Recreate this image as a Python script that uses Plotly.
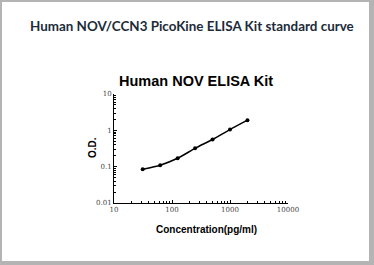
import plotly.graph_objects as go

concentration = [31.25, 62.5, 125, 250, 500, 1000, 2000]
od = [0.085, 0.11, 0.17, 0.32, 0.56, 1.05, 1.9]

x_ticks = [10, 100, 1000, 10000]
x_tick_labels = ["10", "100", "1000", "10000"]
y_ticks = [0.01, 0.1, 1, 10]
y_tick_labels = ["0.01", "0.1", "1", "10"]

W, H = 374, 265
L, R, T, B = 114, 86, 94, 62
pw, ph = W - L - R, H - T - B


def px(x):
    return (x - L) / pw


def py(y):
    return (H - B - y) / ph


fig = go.Figure()
fig.add_trace(go.Scatter(
    x=concentration, y=od, mode="lines+markers",
    line=dict(color="black", width=1.5, shape="spline", smoothing=0.6),
    marker=dict(color="black", size=4),
    showlegend=False, hoverinfo="skip",
))

minor_x = [m * 10 ** k for k in range(1, 4) for m in range(2, 10)]
minor_y = [m * 10 ** k for k in range(-2, 1) for m in range(2, 10)]

axis_common = dict(
    type="log", showgrid=False, zeroline=False, showline=True,
    linecolor="black", linewidth=1, ticks="inside", ticklen=3,
    tickcolor="black", tickwidth=1, mirror=False,
    tickfont=dict(family="DejaVu Serif", size=7, color="#444"),
)

fig.update_xaxes(
    **axis_common, range=[1, 4], tickmode="array", tickvals=x_ticks,
    ticktext=x_tick_labels,
    minor=dict(ticks="inside", ticklen=2, tickcolor="black", tickvals=minor_x),
)
fig.update_yaxes(
    **axis_common, range=[-2, 1], tickmode="array", tickvals=y_ticks,
    ticktext=y_tick_labels,
    minor=dict(ticks="inside", ticklen=2, tickcolor="black", tickvals=minor_y),
)

shapes = []
border_color = "#b4b4b4"
# frame around the image
shapes.append(dict(type="rect", xref="paper", yref="paper",
                   x0=px(0), x1=px(2), y0=py(H), y1=py(0),
                   fillcolor=border_color, line=dict(width=0), layer="below"))
shapes.append(dict(type="rect", xref="paper", yref="paper",
                   x0=px(369), x1=px(W), y0=py(H), y1=py(0),
                   fillcolor=border_color, line=dict(width=0), layer="below"))
shapes.append(dict(type="rect", xref="paper", yref="paper",
                   x0=px(0), x1=px(W), y0=py(2), y1=py(0),
                   fillcolor=border_color, line=dict(width=0), layer="below"))
shapes.append(dict(type="rect", xref="paper", yref="paper",
                   x0=px(0), x1=px(W), y0=py(H), y1=py(261),
                   fillcolor=border_color, line=dict(width=0), layer="below"))

annotations = [
    dict(text="<b>Human NOV/CCN3 PicoKine ELISA Kit standard curve</b>",
         xref="paper", yref="paper", x=px(191.5), y=py(26),
         showarrow=False, xanchor="center", yanchor="middle",
         font=dict(family="Lato", size=13.4, color="#1c2b3a")),
    dict(text="<b>Human NOV ELISA Kit</b>",
         xref="paper", yref="paper", x=px(196), y=py(81),
         showarrow=False, xanchor="center", yanchor="middle",
         font=dict(family="Liberation Sans", size=14.5, color="black")),
    dict(text="<b>Concentration(pg/ml)</b>",
         xref="paper", yref="paper", x=px(206), y=py(229),
         showarrow=False, xanchor="center", yanchor="middle",
         font=dict(family="Liberation Sans", size=10, color="black")),
    dict(text="<b>O.D.</b>", textangle=-90,
         xref="paper", yref="paper", x=px(92), y=py(148),
         showarrow=False, xanchor="center", yanchor="middle",
         font=dict(family="Liberation Sans", size=10, color="black")),
]

fig.update_layout(
    width=W, height=H,
    margin=dict(l=L, r=R, t=T, b=B),
    paper_bgcolor="white", plot_bgcolor="white",
    shapes=shapes, annotations=annotations,
)

fig.write_html("out.html")
